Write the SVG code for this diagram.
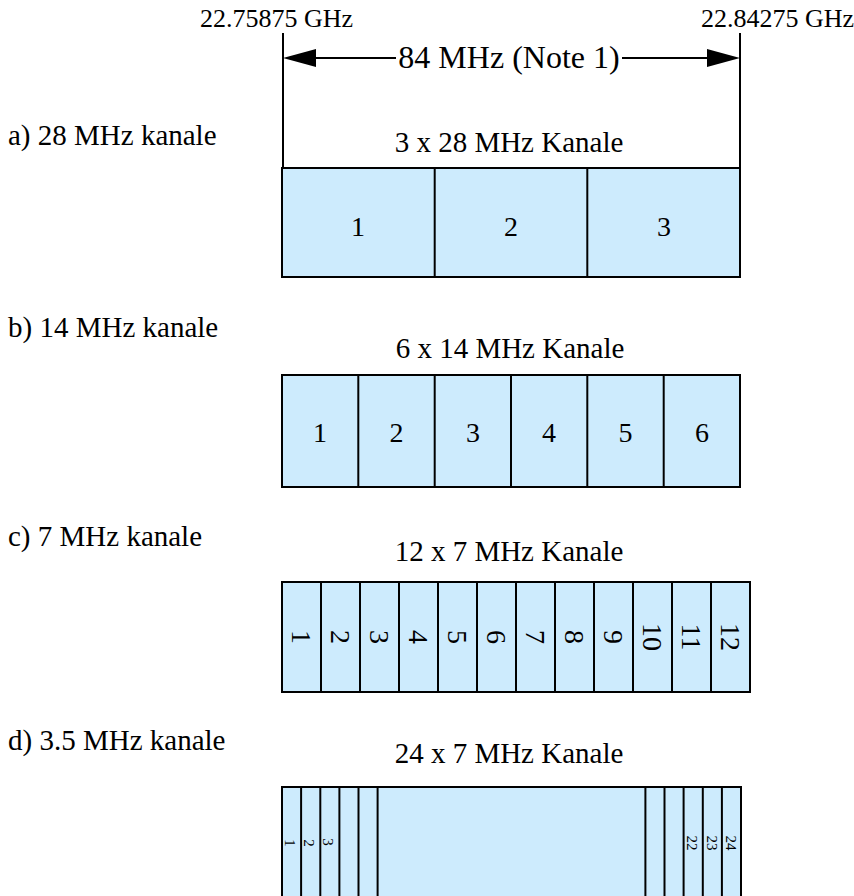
<svg xmlns="http://www.w3.org/2000/svg" width="854" height="896" viewBox="0 0 854 896">
<style>
text{font-family:"Liberation Serif","Times New Roman",serif;fill:#000}
.g{font-size:26px}
.lbl{font-size:29px}
.t{font-size:29px;text-anchor:middle}
.big{font-size:32px;text-anchor:middle}
.n{font-size:28px;text-anchor:middle}
.s{font-size:15px;text-anchor:middle}
.cell{fill:#cdebfd;stroke:#000;stroke-width:2}
.ln{stroke:#000;stroke-width:2;fill:none}
</style>
<rect width="854" height="896" fill="#fff"/>
<g id="header">
<text class="g" x="200" y="27">22.75875 GHz</text>
<text class="g" x="701" y="27">22.84275 GHz</text>
<text class="big" x="509" y="68">84 MHz (Note 1)</text>
</g>
<g id="connectors">
<line class="ln" x1="283" y1="33" x2="283" y2="168"/>
<line class="ln" x1="740" y1="33" x2="740" y2="168"/>
<line class="ln" x1="300" y1="58" x2="396" y2="58"/>
<line class="ln" x1="622" y1="58" x2="724" y2="58"/>
<polygon points="283,58 316,49 316,67" fill="#000"/>
<polygon points="740,58 707,49 707,67" fill="#000"/>
</g>
<g id="row-a">
<text class="lbl" x="8" y="145">a) 28 MHz kanale</text>
<text class="t" x="509" y="152">3 x 28 MHz Kanale</text>
<rect class="cell" x="282" y="168" width="458" height="109"/>
<line class="ln" x1="434.7" y1="168" x2="434.7" y2="277"/>
<line class="ln" x1="587.3" y1="168" x2="587.3" y2="277"/>
<text class="n" x="358" y="236">1</text>
<text class="n" x="511" y="236">2</text>
<text class="n" x="664" y="236">3</text>
</g>
<g id="row-b">
<text class="lbl" x="8" y="337">b) 14 MHz kanale</text>
<text class="t" x="510" y="358">6 x 14 MHz Kanale</text>
<rect class="cell" x="282" y="375" width="458" height="112"/>
<line class="ln" x1="358.3" y1="375" x2="358.3" y2="487"/>
<line class="ln" x1="434.7" y1="375" x2="434.7" y2="487"/>
<line class="ln" x1="511" y1="375" x2="511" y2="487"/>
<line class="ln" x1="587.3" y1="375" x2="587.3" y2="487"/>
<line class="ln" x1="663.7" y1="375" x2="663.7" y2="487"/>
<text class="n" x="320" y="442">1</text>
<text class="n" x="396.5" y="442">2</text>
<text class="n" x="473" y="442">3</text>
<text class="n" x="549" y="442">4</text>
<text class="n" x="625.5" y="442">5</text>
<text class="n" x="702" y="442">6</text>
</g>
<g id="row-c">
<text class="lbl" x="8" y="546">c) 7 MHz kanale</text>
<text class="t" x="509" y="561">12 x 7 MHz Kanale</text>
<rect class="cell" x="282" y="582" width="468" height="110"/>
<line class="ln" x1="321" y1="582" x2="321" y2="692"/>
<line class="ln" x1="360" y1="582" x2="360" y2="692"/>
<line class="ln" x1="399" y1="582" x2="399" y2="692"/>
<line class="ln" x1="438" y1="582" x2="438" y2="692"/>
<line class="ln" x1="477" y1="582" x2="477" y2="692"/>
<line class="ln" x1="516" y1="582" x2="516" y2="692"/>
<line class="ln" x1="555" y1="582" x2="555" y2="692"/>
<line class="ln" x1="594" y1="582" x2="594" y2="692"/>
<line class="ln" x1="633" y1="582" x2="633" y2="692"/>
<line class="ln" x1="672" y1="582" x2="672" y2="692"/>
<line class="ln" x1="711" y1="582" x2="711" y2="692"/>
<text class="n" dy="0.35em" transform="translate(301.5,637) rotate(90)">1</text>
<text class="n" dy="0.35em" transform="translate(340.5,637) rotate(90)">2</text>
<text class="n" dy="0.35em" transform="translate(379.5,637) rotate(90)">3</text>
<text class="n" dy="0.35em" transform="translate(418.5,637) rotate(90)">4</text>
<text class="n" dy="0.35em" transform="translate(457.5,637) rotate(90)">5</text>
<text class="n" dy="0.35em" transform="translate(496.5,637) rotate(90)">6</text>
<text class="n" dy="0.35em" transform="translate(535.5,637) rotate(90)">7</text>
<text class="n" dy="0.35em" transform="translate(574.5,637) rotate(90)">8</text>
<text class="n" dy="0.35em" transform="translate(613.5,637) rotate(90)">9</text>
<text class="n" dy="0.35em" transform="translate(652.5,637) rotate(90)">10</text>
<text class="n" dy="0.35em" transform="translate(691.5,637) rotate(90)">11</text>
<text class="n" dy="0.35em" transform="translate(730.5,637) rotate(90)">12</text>
</g>
<g id="row-d">
<text class="lbl" x="8" y="750">d) 3.5 MHz kanale</text>
<text class="t" x="509" y="763">24 x 7 MHz Kanale</text>
<rect class="cell" x="282" y="787" width="459" height="120"/>
<line class="ln" x1="301.1" y1="787" x2="301.1" y2="900"/>
<line class="ln" x1="320.3" y1="787" x2="320.3" y2="900"/>
<line class="ln" x1="339.4" y1="787" x2="339.4" y2="900"/>
<line class="ln" x1="358.5" y1="787" x2="358.5" y2="900"/>
<line class="ln" x1="377.6" y1="787" x2="377.6" y2="900"/>
<line class="ln" x1="645.4" y1="787" x2="645.4" y2="900"/>
<line class="ln" x1="664.5" y1="787" x2="664.5" y2="900"/>
<line class="ln" x1="683.6" y1="787" x2="683.6" y2="900"/>
<line class="ln" x1="702.8" y1="787" x2="702.8" y2="900"/>
<line class="ln" x1="721.9" y1="787" x2="721.9" y2="900"/>
<text class="s" dy="0.35em" transform="translate(290,843) rotate(90)">1</text>
<text class="s" dy="0.35em" transform="translate(309,843) rotate(90)">2</text>
<text class="s" dy="0.35em" transform="translate(328.5,842) rotate(90)">3</text>
<text class="s" dy="0.35em" transform="translate(692,843) rotate(90)">22</text>
<text class="s" dy="0.35em" transform="translate(712,843) rotate(90)">23</text>
<text class="s" dy="0.35em" transform="translate(731.5,843) rotate(90)">24</text>
</g>
</svg>
